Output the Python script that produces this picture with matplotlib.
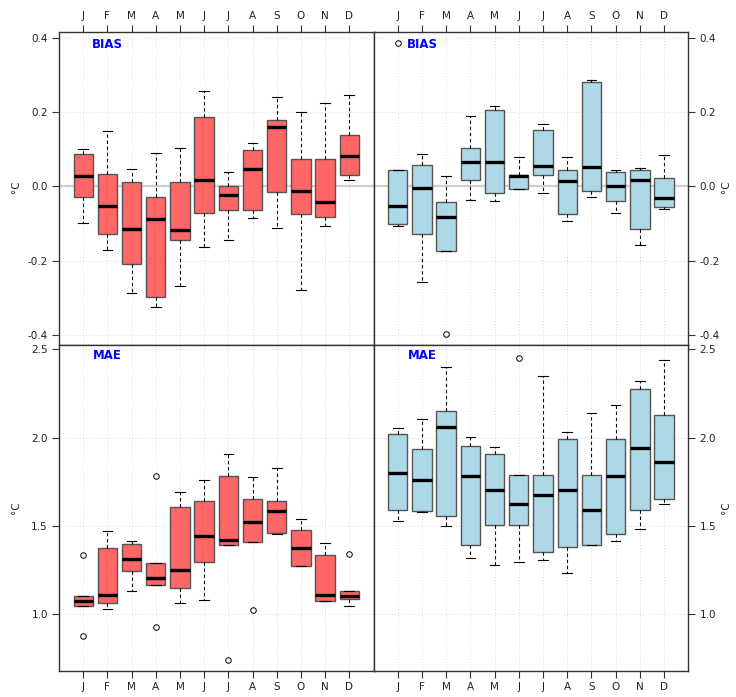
import matplotlib
matplotlib.use('Agg')
import matplotlib.pyplot as plt

months = ['J', 'F', 'M', 'A', 'M', 'J', 'J', 'A', 'S', 'O', 'N', 'D']

# ---- BIAS, left panel (red) ----
bias_l_whislo = [-0.099, -0.171, -0.287, -0.325, -0.268, -0.163, -0.143, -0.085, -0.112, -0.279, -0.106, 0.016]
bias_l_q1     = [-0.028, -0.127, -0.209, -0.297, -0.144, -0.071, -0.064, -0.063, -0.015, -0.073, -0.083, 0.030]
bias_l_med    = [0.027, -0.052, -0.115, -0.087, -0.116, 0.016, -0.024, 0.046, 0.159, -0.012, -0.041, 0.083]
bias_l_q3     = [0.087, 0.033, 0.011, -0.028, 0.013, 0.186, 0.002, 0.099, 0.178, 0.074, 0.074, 0.138]
bias_l_whishi = [0.100, 0.148, 0.047, 0.090, 0.102, 0.256, 0.039, 0.117, 0.241, 0.201, 0.223, 0.247]
bias_l_fliers = [[], [], [], [], [], [], [], [], [], [], [], []]

# ---- BIAS, right panel (blue) ----
bias_r_whislo = [-0.105, -0.256, -0.173, -0.036, -0.040, -0.007, -0.018, -0.092, -0.029, -0.071, -0.158, -0.060]
bias_r_q1     = [-0.100, -0.129, -0.173, 0.017, -0.018, -0.007, 0.031, -0.074, -0.012, -0.038, -0.115, -0.054]
bias_r_med    = [-0.052, -0.005, -0.083, 0.067, 0.067, 0.027, 0.054, 0.014, 0.051, 0.002, 0.018, -0.030]
bias_r_q3     = [0.044, 0.058, -0.042, 0.103, 0.205, 0.030, 0.152, 0.043, 0.280, 0.038, 0.043, 0.022]
bias_r_whishi = [0.044, 0.087, 0.028, 0.189, 0.217, 0.080, 0.169, 0.078, 0.287, 0.044, 0.049, 0.085]
bias_r_fliers = [[0.386], [], [-0.396], [], [], [], [], [], [], [], [], []]

# ---- MAE, left panel (red) ----
mae_l_whislo = [1.050, 1.033, 1.133, 1.169, 1.063, 1.080, 1.395, 1.408, 1.453, 1.272, 1.074, 1.048]
mae_l_q1     = [1.050, 1.067, 1.246, 1.169, 1.148, 1.297, 1.395, 1.408, 1.460, 1.272, 1.074, 1.089]
mae_l_med    = [1.076, 1.112, 1.312, 1.206, 1.251, 1.444, 1.421, 1.523, 1.583, 1.374, 1.112, 1.105]
mae_l_q3     = [1.103, 1.378, 1.400, 1.289, 1.607, 1.641, 1.781, 1.653, 1.643, 1.476, 1.334, 1.133]
mae_l_whishi = [1.103, 1.472, 1.415, 1.289, 1.694, 1.760, 1.907, 1.777, 1.830, 1.541, 1.406, 1.133]
mae_l_fliers = [[1.334, 0.879], [], [], [1.781, 0.926], [], [], [0.745], [1.025], [], [], [], [1.342]]

# ---- MAE, right panel (blue) ----
mae_r_whislo = [1.530, 1.577, 1.498, 1.319, 1.278, 1.297, 1.310, 1.233, 1.395, 1.413, 1.483, 1.624]
mae_r_q1     = [1.590, 1.583, 1.555, 1.393, 1.508, 1.508, 1.353, 1.383, 1.395, 1.455, 1.589, 1.654]
mae_r_med    = [1.799, 1.758, 2.061, 1.784, 1.705, 1.626, 1.673, 1.705, 1.592, 1.781, 1.943, 1.862]
mae_r_q3     = [2.022, 1.935, 2.152, 1.952, 1.905, 1.788, 1.788, 1.993, 1.788, 1.993, 2.274, 2.127]
mae_r_whishi = [2.054, 2.105, 2.400, 2.005, 1.946, 1.788, 2.346, 2.029, 2.138, 2.182, 2.317, 2.438]
mae_r_fliers = [[], [], [], [], [], [2.451], [], [], [], [], [], []]

bias_ticks = [-0.4, -0.2, 0.0, 0.2, 0.4]
mae_ticks = [1.0, 1.5, 2.0, 2.5]

RED = '#FF6666'
BLUE = '#ADD8E6'

W, H = 736, 697
fig = plt.figure(figsize=(W / 100, H / 100), dpi=100)

xl, xm, xr = 59 / W, 373.5 / W, 688.3 / W
yt, ym, yb = 1 - 32 / H, 1 - 345 / H, 1 - 671 / H

ax_tl = fig.add_axes([xl, ym, xm - xl, yt - ym])
ax_tr = fig.add_axes([xm, ym, xr - xm, yt - ym])
ax_bl = fig.add_axes([xl, yb, xm - xl, ym - yb])
ax_br = fig.add_axes([xm, yb, xr - xm, ym - yb])


def draw(ax, lo, q1, med, q3, hi, fl, color, ylim, ticks, side, xside, label, zero):
    stats = []
    for i in range(len(months)):
        stats.append(dict(whislo=lo[i], q1=q1[i], med=med[i], q3=q3[i],
                          whishi=hi[i], fliers=fl[i]))
    pos = list(range(1, len(months) + 1))
    for p in pos:
        ax.axvline(p, color='#d9d9d9', lw=0.7, ls=(0, (1, 2)), zorder=0)
    for t in ticks:
        ax.axhline(t, color='#d9d9d9', lw=0.7, ls=(0, (1, 2)), zorder=0)
    if zero:
        ax.axhline(0, color='#cfcfcf', lw=1.6, zorder=0.5)
    ax.bxp(stats, positions=pos, widths=0.8, capwidths=0.4, patch_artist=True,
           boxprops=dict(facecolor=color, edgecolor='#555555', linewidth=1.0),
           medianprops=dict(color='black', linewidth=2.4),
           whiskerprops=dict(color='black', linewidth=0.8, linestyle=(0, (3, 2.5))),
           capprops=dict(color='black', linewidth=0.8),
           flierprops=dict(marker='o', markerfacecolor='none', markeredgecolor='black',
                           markersize=4, markeredgewidth=0.7),
           showfliers=True)
    ax.set_xlim(0.0, 13.0)
    ax.set_ylim(*ylim)
    ax.set_yticks(ticks)
    ax.set_yticklabels(['%.1f' % t for t in ticks])
    ax.set_xticks(pos)
    ax.set_xticklabels(months)
    ax.tick_params(axis='both', direction='out', length=5, width=0.8, color='#333333',
                   labelsize=7.5, labelcolor='#222222', pad=3)
    if side == 'left':
        ax.tick_params(axis='y', left=True, right=False, labelleft=True, labelright=False)
    else:
        ax.tick_params(axis='y', left=False, right=True, labelleft=False, labelright=True)
    if xside == 'top':
        ax.tick_params(axis='x', top=True, bottom=False, labeltop=True, labelbottom=False)
    else:
        ax.tick_params(axis='x', top=False, bottom=True, labeltop=False, labelbottom=True)
    for s in ax.spines.values():
        s.set_color('#333333')
        s.set_linewidth(1.0)
    ax.text(2.0, ticks[-1] - (ylim[1] - ylim[0]) * 0.021, label, color='blue',
            fontweight='bold', fontsize=8.5, ha='center', va='center', zorder=5)


bias_lim = (-0.426, 0.415)
mae_lim = (0.68, 2.523)

draw(ax_tl, bias_l_whislo, bias_l_q1, bias_l_med, bias_l_q3, bias_l_whishi, bias_l_fliers,
     RED, bias_lim, bias_ticks, 'left', 'top', 'BIAS', True)
draw(ax_tr, bias_r_whislo, bias_r_q1, bias_r_med, bias_r_q3, bias_r_whishi, bias_r_fliers,
     BLUE, bias_lim, bias_ticks, 'right', 'top', 'BIAS', True)
draw(ax_bl, mae_l_whislo, mae_l_q1, mae_l_med, mae_l_q3, mae_l_whishi, mae_l_fliers,
     RED, mae_lim, mae_ticks, 'left', 'bottom', 'MAE', False)
draw(ax_br, mae_r_whislo, mae_r_q1, mae_r_med, mae_r_q3, mae_r_whishi, mae_r_fliers,
     BLUE, mae_lim, mae_ticks, 'right', 'bottom', 'MAE', False)

fig.text(16 / W, 1 - 187 / H, '°C', rotation=90, ha='center', va='center', fontsize=7.5, color='#222222')
fig.text(16 / W, 1 - 508 / H, '°C', rotation=90, ha='center', va='center', fontsize=7.5, color='#222222')
fig.text(726 / W, 1 - 187 / H, '°C', rotation=90, ha='center', va='center', fontsize=7.5, color='#222222')
fig.text(726 / W, 1 - 508 / H, '°C', rotation=90, ha='center', va='center', fontsize=7.5, color='#222222')

fig.savefig('out.png', dpi=100)
